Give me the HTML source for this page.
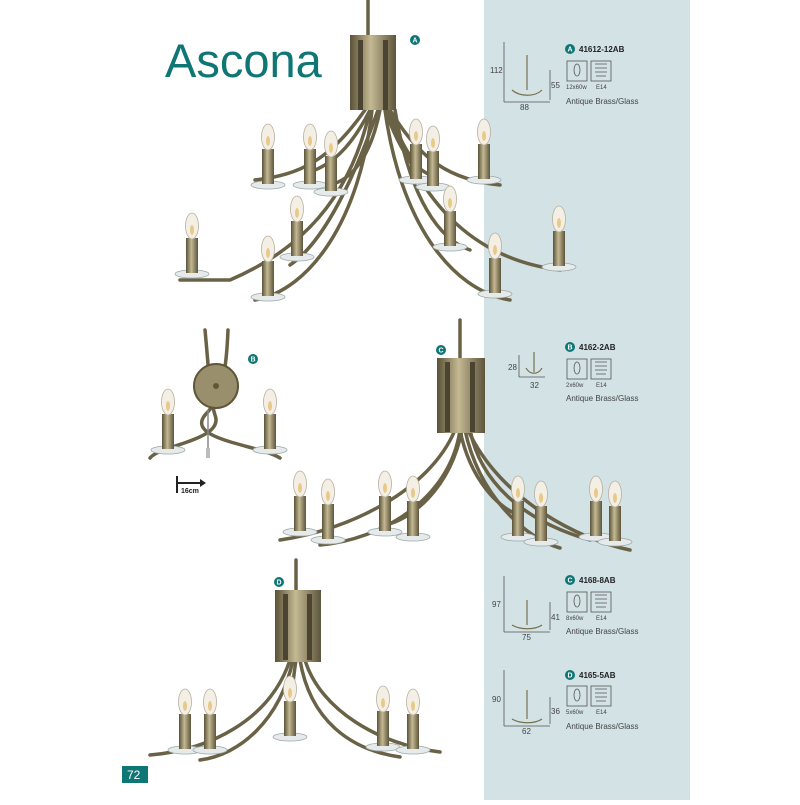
<!DOCTYPE html>
<html><head><meta charset="utf-8"><style>
body{margin:0;width:800px;height:800px;background:#fff;overflow:hidden;font-family:"Liberation Sans",sans-serif}
</style></head><body>
<svg width="800" height="800" viewBox="0 0 800 800" xmlns="http://www.w3.org/2000/svg" font-family="Liberation Sans, sans-serif">
<defs>
<linearGradient id="br" x1="0" x2="1"><stop offset="0" stop-color="#5a5238"/><stop offset=".45" stop-color="#c4b993"/><stop offset="1" stop-color="#5d553c"/></linearGradient>
<g id="c">
<ellipse cx="0" cy="2" rx="17" ry="4" fill="#e6eaeb" stroke="#9aa" stroke-width="0.8"/>
<rect x="-6" y="-34" width="12" height="35" fill="url(#br)"/>
<ellipse cx="0" cy="-46" rx="6.5" ry="13" fill="#f4efe4" stroke="#b8b0a0" stroke-width="0.8"/>
<ellipse cx="0" cy="-42" rx="2" ry="5" fill="#e8c98a"/>
</g>
</defs>
<rect x="484" y="0" width="206" height="800" fill="#d2e2e5"/>
<text x="165" y="77" font-size="47" fill="#0e7674">Ascona</text>
<rect x="122" y="766" width="26" height="17" fill="#0e7674"/>
<text x="127" y="779" font-size="12" fill="#fff">72</text>

<g fill="none" stroke="#6a6246" stroke-width="3.5" stroke-linecap="round">
<!-- A -->
<path d="M368 0 V35"/>
<path d="M370 110 C350 200 300 250 230 280 L180 280"/>
<path d="M372 110 C360 220 310 290 255 300"/>
<path d="M378 110 C350 190 320 245 290 265"/>
<path d="M365 110 C330 160 300 175 255 180"/>
<path d="M370 110 C350 150 330 165 310 172"/>
<path d="M380 110 C370 160 350 180 330 185"/>
<path d="M385 110 C400 220 450 290 510 300"/>
<path d="M390 110 C420 210 480 260 560 270"/>
<path d="M395 110 C410 200 440 240 470 250"/>
<path d="M390 110 C420 160 450 180 500 185"/>
<path d="M385 110 C400 150 410 165 430 175"/>
<path d="M388 110 C400 140 410 160 420 165"/>
<!-- B -->
<path d="M205 330 C208 360 210 400 215 415 C225 440 160 445 150 458"/>
<path d="M228 330 C226 380 220 400 205 415 C185 440 260 445 280 458"/>
<!-- C -->
<path d="M460 320 V360"/>
<path d="M455 430 C430 490 350 530 280 540"/>
<path d="M460 430 C450 500 380 540 320 545"/>
<path d="M462 430 C450 490 410 520 385 525"/>
<path d="M465 430 C480 500 530 540 560 548"/>
<path d="M470 430 C480 480 520 520 590 540"/>
<path d="M468 430 C500 500 580 540 630 550"/>
<path d="M460 430 C470 480 500 510 520 515"/>
<!-- D -->
<path d="M296 560 V590"/>
<path d="M290 660 C270 720 210 750 150 755"/>
<path d="M293 660 C280 720 240 755 200 760"/>
<path d="M300 660 C310 720 350 750 400 757"/>
<path d="M305 660 C320 710 380 745 440 752"/>
<path d="M296 660 C290 700 290 725 290 735"/>
</g>
<!-- columns -->
<rect x="350" y="35" width="46" height="75" fill="url(#br)"/>
<rect x="358" y="40" width="5" height="70" fill="#4a4430"/><rect x="383" y="40" width="5" height="70" fill="#4a4430"/>
<rect x="437" y="358" width="48" height="75" fill="url(#br)"/>
<rect x="445" y="362" width="5" height="70" fill="#4a4430"/><rect x="470" y="362" width="5" height="70" fill="#4a4430"/>
<rect x="275" y="590" width="46" height="72" fill="url(#br)"/>
<rect x="283" y="594" width="5" height="66" fill="#4a4430"/><rect x="307" y="594" width="5" height="66" fill="#4a4430"/>
<!-- B plate -->
<circle cx="216" cy="386" r="22" fill="#9a8f6c" stroke="#5e5638" stroke-width="2"/>
<circle cx="216" cy="386" r="3" fill="#5e5638"/>
<line x1="208" y1="410" x2="208" y2="450" stroke="#888" stroke-width="1.5"/>
<rect x="206" y="448" width="4" height="10" fill="#bbb"/>

<!-- candles A -->
<use href="#c" x="268" y="183"/><use href="#c" x="310" y="183"/><use href="#c" x="331" y="190"/>
<use href="#c" x="416" y="178"/><use href="#c" x="433" y="185"/><use href="#c" x="484" y="178"/>
<use href="#c" x="192" y="272"/><use href="#c" x="268" y="295"/><use href="#c" x="297" y="255"/>
<use href="#c" x="450" y="245"/><use href="#c" x="495" y="292"/><use href="#c" x="559" y="265"/>
<!-- B -->
<use href="#c" x="168" y="448"/><use href="#c" x="270" y="448"/>
<!-- C -->
<use href="#c" x="300" y="530"/><use href="#c" x="328" y="538"/><use href="#c" x="385" y="530"/><use href="#c" x="413" y="535"/>
<use href="#c" x="518" y="535"/><use href="#c" x="541" y="540"/><use href="#c" x="596" y="535"/><use href="#c" x="615" y="540"/>
<!-- D -->
<use href="#c" x="185" y="748"/><use href="#c" x="210" y="748"/><use href="#c" x="290" y="735"/>
<use href="#c" x="383" y="745"/><use href="#c" x="413" y="748"/>

<!-- letter badges -->
<g font-size="7" font-weight="bold" fill="#fff" text-anchor="middle">
<circle cx="415" cy="40" r="5" fill="#0e7674"/><text x="415" y="42.5">A</text>
<circle cx="253" cy="359" r="5" fill="#0e7674"/><text x="253" y="361.5">B</text>
<circle cx="441" cy="350" r="5" fill="#0e7674"/><text x="441" y="352.5">C</text>
<circle cx="279" cy="582" r="5" fill="#0e7674"/><text x="279" y="584.5">D</text>
</g>
<!-- 16cm -->
<path d="M177 476 V493 M177 483 H200" stroke="#222" stroke-width="2" fill="none"/>
<path d="M200 479 L206 483 L200 487Z" fill="#222"/>
<text x="181" y="493" font-size="7" fill="#222" font-weight="bold">16cm</text>

<!-- spec blocks -->
<g font-size="8" fill="#444">
<path d="M504 42 V102 M504 102 H550 M550 70 V100" stroke="#555" stroke-width="0.8" fill="none"/>
<path d="M527 55 V90 M512 90 C520 97 535 97 542 90" stroke="#7a7050" stroke-width="1.2" fill="none"/>
<text x="490" y="73">112</text><text x="551" y="88">55</text><text x="520" y="110">88</text>
<circle cx="570" cy="49" r="5" fill="#0e7674"/><text x="570" y="51.5" font-size="7" fill="#fff" text-anchor="middle" font-weight="bold">A</text>
<text x="579" y="52" font-weight="bold" fill="#222">41612-12AB</text>
<rect x="567" y="61" width="20" height="20" fill="none" stroke="#555" stroke-width="0.8"/>
<rect x="591" y="61" width="20" height="20" fill="none" stroke="#555" stroke-width="0.8"/>
<ellipse cx="577" cy="70" rx="3" ry="6" fill="none" stroke="#555" stroke-width="0.8"/>
<path d="M595 64 H607 M595 68 H607 M595 72 H607 M596 76 H606" stroke="#555" stroke-width="0.8"/>
<text x="566" y="89" font-size="6">12x60w</text><text x="596" y="89" font-size="6">E14</text>
<text x="566" y="104">Antique Brass/Glass</text>
<path d="M519 355 V377 M519 377 H545" stroke="#555" stroke-width="0.8" fill="none"/>
<path d="M526 368 C530 375 538 375 542 368 M534 352 V372" stroke="#7a7050" stroke-width="1.2" fill="none"/>
<text x="508" y="370">28</text><text x="530" y="388">32</text>
<circle cx="570" cy="347" r="5" fill="#0e7674"/><text x="570" y="349.5" font-size="7" fill="#fff" text-anchor="middle" font-weight="bold">B</text>
<text x="579" y="350" font-weight="bold" fill="#222">4162-2AB</text>
<rect x="567" y="359" width="20" height="20" fill="none" stroke="#555" stroke-width="0.8"/>
<rect x="591" y="359" width="20" height="20" fill="none" stroke="#555" stroke-width="0.8"/>
<ellipse cx="577" cy="368" rx="3" ry="6" fill="none" stroke="#555" stroke-width="0.8"/>
<path d="M595 362 H607 M595 366 H607 M595 370 H607 M596 374 H606" stroke="#555" stroke-width="0.8"/>
<text x="566" y="387" font-size="6">2x60w</text><text x="596" y="387" font-size="6">E14</text>
<text x="566" y="401">Antique Brass/Glass</text>
<path d="M504 576 V632 M504 632 H550 M550 602 V630" stroke="#555" stroke-width="0.8" fill="none"/>
<path d="M527 600 V625 M512 625 C520 630 535 630 542 625" stroke="#7a7050" stroke-width="1.2" fill="none"/>
<text x="492" y="607">97</text><text x="551" y="620">41</text><text x="522" y="640">75</text>
<circle cx="570" cy="580" r="5" fill="#0e7674"/><text x="570" y="582.5" font-size="7" fill="#fff" text-anchor="middle" font-weight="bold">C</text>
<text x="579" y="583" font-weight="bold" fill="#222">4168-8AB</text>
<rect x="567" y="592" width="20" height="20" fill="none" stroke="#555" stroke-width="0.8"/>
<rect x="591" y="592" width="20" height="20" fill="none" stroke="#555" stroke-width="0.8"/>
<ellipse cx="577" cy="601" rx="3" ry="6" fill="none" stroke="#555" stroke-width="0.8"/>
<path d="M595 595 H607 M595 599 H607 M595 603 H607 M596 607 H606" stroke="#555" stroke-width="0.8"/>
<text x="566" y="620" font-size="6">8x60w</text><text x="596" y="620" font-size="6">E14</text>
<text x="566" y="634">Antique Brass/Glass</text>
<path d="M504 670 V726 M504 726 H550 M550 697 V724" stroke="#555" stroke-width="0.8" fill="none"/>
<path d="M527 690 V719 M512 719 C520 724 535 724 542 719" stroke="#7a7050" stroke-width="1.2" fill="none"/>
<text x="492" y="702">90</text><text x="551" y="714">36</text><text x="522" y="734">62</text>
<circle cx="570" cy="675" r="5" fill="#0e7674"/><text x="570" y="677.5" font-size="7" fill="#fff" text-anchor="middle" font-weight="bold">D</text>
<text x="579" y="678" font-weight="bold" fill="#222">4165-5AB</text>
<rect x="567" y="686" width="20" height="20" fill="none" stroke="#555" stroke-width="0.8"/>
<rect x="591" y="686" width="20" height="20" fill="none" stroke="#555" stroke-width="0.8"/>
<ellipse cx="577" cy="695" rx="3" ry="6" fill="none" stroke="#555" stroke-width="0.8"/>
<path d="M595 689 H607 M595 693 H607 M595 697 H607 M596 701 H606" stroke="#555" stroke-width="0.8"/>
<text x="566" y="714" font-size="6">5x60w</text><text x="596" y="714" font-size="6">E14</text>
<text x="566" y="729">Antique Brass/Glass</text>
</g>
</svg>
</body></html>
